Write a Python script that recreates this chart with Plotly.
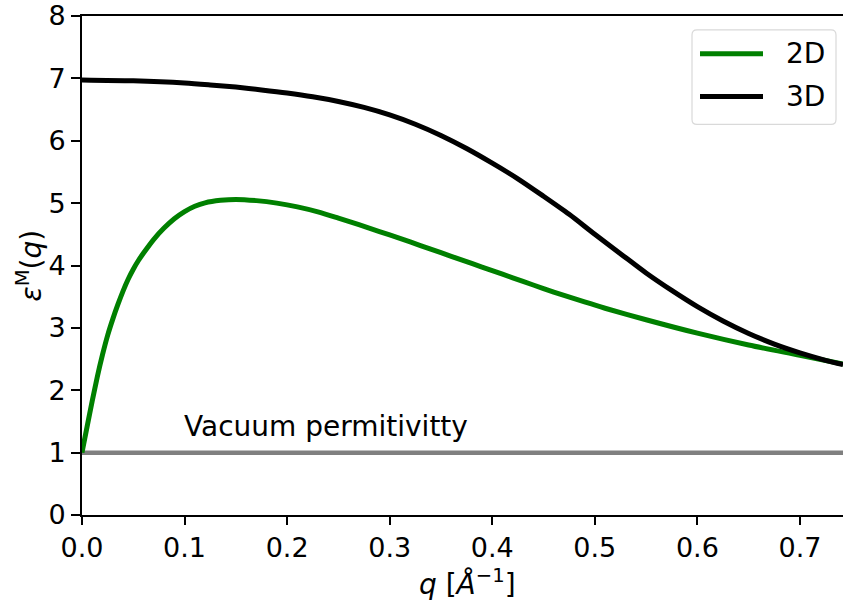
import plotly.graph_objects as go

# Macroscopic dielectric function versus momentum transfer
q_2d = [0.0, 0.005, 0.01, 0.015, 0.02, 0.025, 0.03, 0.035, 0.04, 0.045, 0.05, 0.055,
        0.06, 0.07, 0.08, 0.09, 0.10, 0.11, 0.12, 0.135, 0.15, 0.17, 0.19, 0.21,
        0.23, 0.25, 0.27, 0.29, 0.31, 0.33, 0.35, 0.37, 0.39, 0.41, 0.43, 0.45,
        0.47, 0.49, 0.51, 0.55, 0.60, 0.65, 0.70, 0.742]
eps_2d = [1.00, 1.42, 1.83, 2.22, 2.57, 2.88, 3.14, 3.375, 3.59, 3.78, 3.94, 4.08,
          4.20, 4.42, 4.60, 4.75, 4.865, 4.95, 5.005, 5.045, 5.06, 5.04, 5.00, 4.94,
          4.86, 4.76, 4.655, 4.545, 4.435, 4.32, 4.205, 4.09, 3.975, 3.86, 3.745, 3.63,
          3.52, 3.415, 3.315, 3.13, 2.915, 2.725, 2.56, 2.42]

q_3d = [0.0, 0.05, 0.10, 0.125, 0.15, 0.175, 0.20, 0.225, 0.25, 0.275, 0.30, 0.325,
        0.35, 0.375, 0.40, 0.425, 0.45, 0.475, 0.50, 0.525, 0.55, 0.575, 0.60,
        0.625, 0.65, 0.675, 0.70, 0.725, 0.742]
eps_3d = [6.975, 6.96, 6.925, 6.895, 6.86, 6.815, 6.765, 6.705, 6.63, 6.535, 6.415,
          6.265, 6.085, 5.875, 5.64, 5.39, 5.11, 4.82, 4.50, 4.19, 3.88, 3.60, 3.34,
          3.11, 2.91, 2.74, 2.60, 2.48, 2.41]

q_vac = [0.0, 0.75]
eps_vac = [1.0, 1.0]

x_ticks = [0.0, 0.1, 0.2, 0.3, 0.4, 0.5, 0.6, 0.7]
y_ticks = [0, 1, 2, 3, 4, 5, 6, 7, 8]

FONT = "DejaVu Sans"
GREEN = "#008000"
BLACK = "#000000"
GREY = "#808080"

fig = go.Figure()
fig.add_trace(go.Scatter(x=q_vac, y=eps_vac, mode="lines",
                         line=dict(color=GREY, width=4.5), showlegend=False))
fig.add_trace(go.Scatter(x=q_2d, y=eps_2d, mode="lines", name="2D",
                         line=dict(color=GREEN, width=5, shape="spline", smoothing=0.8),
                         showlegend=False))
fig.add_trace(go.Scatter(x=q_3d, y=eps_3d, mode="lines", name="3D",
                         line=dict(color=BLACK, width=5, shape="spline", smoothing=0.8),
                         showlegend=False))

W, H = 843, 600
ML, MR, MT, MB = 82, 0, 13, 85
PW, PH = W - ML - MR, H - MT - MB


def px_x(p):
    return (p - ML) / PW


def px_y(p):
    return (H - MB - p) / PH


# Legend drawn as a rounded frame with sample lines
x0, x1, y0, y1, r = 692, 836, 27, 122, 5
path = (f"M {px_x(x0 + r)},{px_y(y0)} L {px_x(x1 - r)},{px_y(y0)} "
        f"Q {px_x(x1)},{px_y(y0)} {px_x(x1)},{px_y(y0 + r)} "
        f"L {px_x(x1)},{px_y(y1 - r)} Q {px_x(x1)},{px_y(y1)} {px_x(x1 - r)},{px_y(y1)} "
        f"L {px_x(x0 + r)},{px_y(y1)} Q {px_x(x0)},{px_y(y1)} {px_x(x0)},{px_y(y1 - r)} "
        f"L {px_x(x0)},{px_y(y0 + r)} Q {px_x(x0)},{px_y(y0)} {px_x(x0 + r)},{px_y(y0)} Z")
shapes = [dict(type="path", xref="paper", yref="paper", path=path,
               line=dict(color="#d9d9d9", width=1.2), fillcolor="rgba(255,255,255,0.8)")]
legend_items = [("2D", GREEN, 51), ("3D", BLACK, 94)]
annotations = []
for label, color, yy in legend_items:
    shapes.append(dict(type="line", xref="paper", yref="paper",
                       x0=px_x(700), x1=px_x(763), y0=px_y(yy), y1=px_y(yy),
                       line=dict(color=color, width=5)))
    annotations.append(dict(xref="paper", yref="paper", x=px_x(784), y=px_y(yy),
                            text=label, showarrow=False, xanchor="left", yanchor="middle",
                            font=dict(family=FONT, size=28, color="black")))

annotations.append(dict(x=0.1, y=1.42, xref="x", yref="y", text="Vacuum permitivitty",
                        showarrow=False, xanchor="left", yanchor="middle", xshift=-3,
                        font=dict(family=FONT, size=28, color="black")))
annotations.append(dict(xref="paper", yref="paper", x=0, y=0.5, xshift=-52,
                        text="<i>ε</i><sup>M</sup>(<i>q</i>)", textangle=-90,
                        showarrow=False, xanchor="center", yanchor="middle",
                        font=dict(family=FONT, size=28, color="black")))
annotations.append(dict(xref="paper", yref="paper", x=px_x(467), y=0, yshift=-67,
                        text="<i>q</i> [<i>Å</i><sup>−1</sup>]",
                        showarrow=False, xanchor="center", yanchor="middle",
                        font=dict(family=FONT, size=28, color="black")))

fig.update_layout(
    width=W, height=H,
    margin=dict(l=ML, r=MR, t=MT, b=MB, pad=0),
    paper_bgcolor="white", plot_bgcolor="white",
    shapes=shapes, annotations=annotations,
    font=dict(family=FONT, color="black"),
)
fig.update_xaxes(range=[0, 0.742], tickvals=x_ticks, ticktext=[f"{v:.1f}" for v in x_ticks],
                 showgrid=False, zeroline=False, showline=True, linecolor="black", linewidth=2,
                 mirror=True, ticks="outside", ticklen=8, tickwidth=2, tickcolor="black",
                 ticklabeloverflow="allow",
                 tickfont=dict(family=FONT, size=27, color="black"))
fig.update_yaxes(range=[0, 8], tickvals=y_ticks, ticktext=[str(v) for v in y_ticks],
                 showgrid=False, zeroline=False, showline=True, linecolor="black", linewidth=2,
                 ticks="outside", ticklen=9, tickwidth=2, tickcolor="black",
                 ticklabeloverflow="allow",
                 tickfont=dict(family=FONT, size=27, color="black"))

fig.write_html("out.html")
